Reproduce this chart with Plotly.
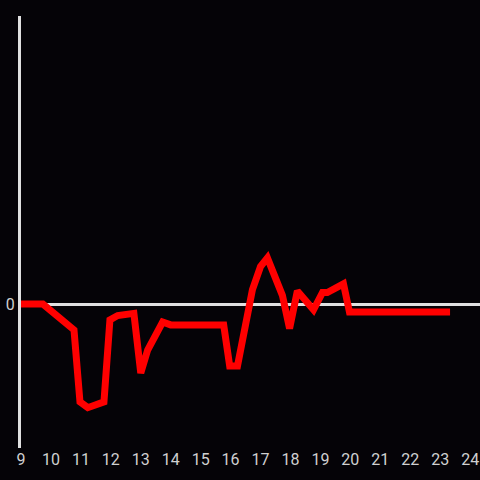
import plotly.graph_objects as go

# hour of day vs. value
hours = [9.0, 9.73, 10.77, 10.97, 11.23, 11.77, 11.97, 12.23, 12.77, 13.0, 13.23,
         13.73, 14.0, 15.77, 15.97, 16.23, 16.73, 17.0, 17.23, 17.73, 17.97, 18.23,
         18.77, 19.07, 19.23, 19.77, 19.97, 23.33]
values = [0.0, 0.0, -0.18, -0.68, -0.72, -0.68, -0.11, -0.08, -0.065, -0.48, -0.32,
          -0.125, -0.145, -0.145, -0.43, -0.43, 0.1, 0.26, 0.32, 0.06, -0.17, 0.09,
          -0.04, 0.08, 0.08, 0.14, -0.055, -0.055]

x_ticks = list(range(9, 25))

fig = go.Figure()

fig.add_trace(
    go.Scatter(
        x=hours,
        y=values,
        mode='lines',
        line=dict(color='#ff0000', width=7),
        showlegend=False
    )
)

fig.update_layout(
    width=480,
    height=480,
    paper_bgcolor='#050307',
    plot_bgcolor='#050307',
    margin=dict(l=21, r=0, t=16, b=32),
    font=dict(family='Roboto, sans-serif', size=16, color='#d0d0d0')
)

fig.update_xaxes(
    range=[9, 24.33],
    tickvals=x_ticks,
    showgrid=False,
    zeroline=False,
    showline=False,
    ticks=''
)

fig.update_yaxes(
    range=[-1, 2],
    tickvals=[0],
    showgrid=False,
    zeroline=True,
    zerolinecolor='#e0e0e0',
    zerolinewidth=3,
    showline=True,
    linecolor='#e0e0e0',
    linewidth=3,
    ticks=''
)

fig.write_html("out.html", config={'displayModeBar': False},
               post_script="document.body.style.margin='0';document.body.style.background='#050307';")
